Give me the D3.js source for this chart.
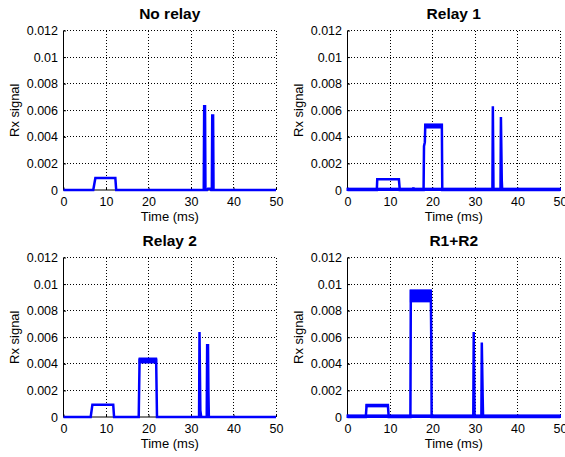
<!DOCTYPE html>
<html><head><meta charset="utf-8">
<script src="https://cdn.jsdelivr.net/npm/d3@7/dist/d3.min.js"></script>
<style>body{margin:0;background:#fff}svg{display:block}</style>
</head><body>
<svg id="c" width="565" height="457"></svg>
<script>
// ---- data ----
const titles = ["No relay", "Relay 1", "Relay 2", "R1+R2"];
const xTicks = [0, 10, 20, 30, 40, 50];
const yTicks = [0, 0.002, 0.004, 0.006, 0.008, 0.01, 0.012];
const yTickLabels = ["0", "0.002", "0.004", "0.006", "0.008", "0.01", "0.012"];
const xLabel = "Time (ms)";
const yLabel = "Rx signal";

// [time ms, value]
const traceNoRelay = [[0,0],[7.0,0],[7.5,0.0009],[12.2,0.0009],[12.4,0],[33.0,0],[33.1,0.0063],[33.3,0.0063],[33.4,0],[33.8,0],[34.0,0.0001],[34.5,0.0001],[34.7,0],[34.9,0],[35.0,0.0056],[35.2,0.0056],[35.3,0],[50,0]];
const traceRelay1 = [[0,0],[6.9,0],[7.0,0.0008],[12.1,0.0008],[12.3,0],[15.4,0],[15.5,0.0002],[15.6,0],[17.9,0],[18.0,0.0033],[18.2,0.0036],[18.3,0.0049],[22.2,0.0049],[22.3,0],[34.1,0],[34.2,0.0063],[34.35,0],[36.0,0],[36.1,0.0055],[36.3,0.0007],[36.4,0],[50,0]];
const traceRelay2 = [[0,0],[6.4,0],[6.8,0.00093],[11.7,0.00093],[11.9,0],[17.7,0],[17.8,0.0022],[17.9,0.0043],[21.8,0.0043],[22.0,0],[31.9,0],[32.0,0.0064],[32.2,0.0005],[32.4,0],[33.7,0],[33.8,0.0054],[34.0,0.0054],[34.1,0.0018],[34.2,0],[50,0]];
const traceR1R2 = [[0,0],[4.3,0],[4.5,0.0009],[9.5,0.0009],[9.7,0],[14.8,0],[14.9,0.0095],[19.6,0.0095],[19.7,0.006],[19.8,0],[29.6,0],[29.7,0.0064],[29.9,0],[31.5,0],[31.6,0.0056],[31.8,0.0016],[31.9,0],[50,0]];
const traces = [traceNoRelay, traceRelay1, traceRelay2, traceR1R2];

// noisy bands: [t0, t1, low, high]
const bandsNoRelay = [];
const bandsRelay1 = [[18.3,22.2,0.0047,0.0049],[0,50,0,0.0001]];
const bandsRelay2 = [[17.9,21.8,0.0041,0.0044]];
const bandsR1R2 = [[14.9,19.6,0.0087,0.0095],[4.5,9.5,0.0008,0.0009],[0,50,0,0.00012]];
const bands = [bandsNoRelay, bandsRelay1, bandsRelay2, bandsR1R2];

// ---- layout ----
const panels = [
  {x: 63.5, y: 30.5}, {x: 347.5, y: 30.5},
  {x: 63.5, y: 257.5}, {x: 347.5, y: 257.5}
];
const W = 212.5, H = 159.5;
const font = "'Liberation Sans', Arial, sans-serif";
const blue = "#0000ff";

const svg = d3.select("#c");

panels.forEach((p, i) => {
  const g = svg.append("g").attr("transform", `translate(${p.x},${p.y})`);
  const x = d3.scaleLinear().domain([0, 50]).range([0, W]);
  const y = d3.scaleLinear().domain([0, 0.012]).range([H, 0]);

  // grid
  g.append("g").selectAll("line").data(xTicks.slice(1)).join("line")
    .attr("x1", d => x(d)).attr("x2", d => x(d)).attr("y1", 0).attr("y2", H)
    .attr("stroke", "#000").attr("stroke-width", 1).attr("stroke-dasharray", "1,2")
    .attr("shape-rendering", "crispEdges");
  g.append("g").selectAll("line").data(yTicks.slice(1)).join("line")
    .attr("x1", 0).attr("x2", W).attr("y1", d => y(d)).attr("y2", d => y(d))
    .attr("stroke", "#000").attr("stroke-width", 1).attr("stroke-dasharray", "1,2")
    .attr("shape-rendering", "crispEdges");

  // axes (ticks inward)
  const ax = g.append("g").attr("transform", `translate(0,${H})`)
    .call(d3.axisBottom(x).tickValues(xTicks).tickSize(-2.5).tickPadding(7).tickFormat(d3.format("d")));
  const ay = g.append("g")
    .call(d3.axisLeft(y).tickValues(yTicks).tickSize(-2.5).tickPadding(5.5).tickFormat((d, k) => yTickLabels[k]));
  [ax, ay].forEach(a => {
    a.select(".domain").attr("stroke", "#000").attr("stroke-width", 1);
    a.selectAll(".tick line").attr("stroke", "#000");
    a.selectAll("text").attr("font-family", font).attr("font-size", 12.5).attr("fill", "#000");
  });
  ax.select(".domain").attr("d", `M0,0H${W}`);
  ay.select(".domain").attr("d", `M0,${H}V0`);

  // bands
  g.append("g").selectAll("rect").data(bands[i]).join("rect")
    .attr("x", d => x(d[0])).attr("width", d => x(d[1]) - x(d[0]))
    .attr("y", d => y(d[3])).attr("height", d => y(d[2]) - y(d[3]))
    .attr("fill", blue).attr("stroke", blue).attr("stroke-width", 2);

  // trace
  g.append("path").datum(traces[i])
    .attr("d", d3.line().x(d => x(d[0])).y(d => y(d[1])))
    .attr("fill", "none").attr("stroke", blue).attr("stroke-width", 2.5)
    .attr("stroke-linejoin", "miter");

  // title
  g.append("text").attr("x", W / 2).attr("y", -11.5).attr("text-anchor", "middle")
    .attr("font-family", font).attr("font-weight", "bold").attr("font-size", 15.5)
    .text(titles[i]);
  // x label
  g.append("text").attr("x", W / 2).attr("y", H + 31).attr("text-anchor", "middle")
    .attr("font-family", font).attr("font-size", 13).text(xLabel);
  // y label
  g.append("text").attr("transform", `translate(-45,${H / 2}) rotate(-90)`)
    .attr("text-anchor", "middle").attr("font-family", font).attr("font-size", 13)
    .text(yLabel);
});
</script>
</body></html>
